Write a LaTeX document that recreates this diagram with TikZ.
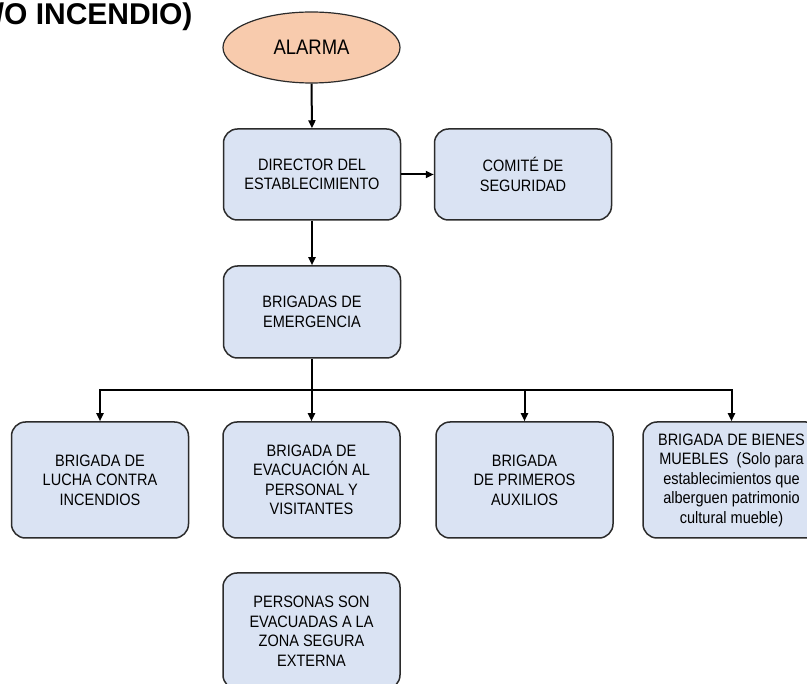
\documentclass[tikz,border=0pt]{standalone}
\usepackage{fontspec}
\setmainfont{Liberation Sans}
\newfontfamily\boxfont[FakeStretch=0.88]{Liberation Sans}
\usetikzlibrary{arrows.meta,positioning,shapes.geometric}
\definecolor{alarmfill}{HTML}{F8CBAD}
\definecolor{boxfill}{HTML}{DAE3F3}
\definecolor{boxline}{HTML}{2B2B2B}
\tikzset{
	block/.style={draw=boxline,line width=1.5pt,fill=boxfill,rounded corners=14pt,minimum width=177pt,align=center,inner sep=2pt,font=\boxfont\fontsize{16.5}{19.5}\selectfont},
	alarm/.style={ellipse,draw=boxline,line width=1.2pt,fill=alarmfill,minimum width=177pt,minimum height=71pt,inner sep=0pt,font=\boxfont\fontsize{21}{24}\selectfont},
	link/.style={line width=2pt,-{Triangle[length=8pt,width=7pt]}}
}

\begin{document}
\begin{tikzpicture}[x=1pt,y=-1pt]
	\useasboundingbox (0,0) rectangle (807,684);

	\node [anchor=base east,font=\bfseries\fontsize{30}{34}\selectfont] (title) at (196,25) {/O INCENDIO)};

	\node [alarm] (alarma) at (311.5,47.5) {ALARMA};
	\node [block,minimum height=91pt] (director) at (312,174.5) {DIRECTOR DEL\\ESTABLECIMIENTO};
	\node [block,minimum height=91pt] (comite) at (523,174.5) {COMIT\'E DE\\SEGURIDAD};
	\node [block,minimum height=92pt] (brigadas) at (312,312) {BRIGADAS DE\\EMERGENCIA};

	\draw [link] (alarma.south) -- (director.north);
	\draw [link] (director.east) -- (comite.west);
	\draw [link] (director.south) -- (brigadas.north);

	% reparto a las brigadas
	\coordinate (bus) at (312,390);
	\draw [line width=2pt] (brigadas.south) -- (bus);
	\foreach \name/\x/\txt in {
		lucha/100/{BRIGADA DE\\LUCHA CONTRA\\INCENDIOS},
		evacuacion/311.5/{BRIGADA DE\\EVACUACI\'ON AL\\PERSONAL Y\\VISITANTES},
		auxilios/524.5/{BRIGADA\\DE PRIMEROS\\AUXILIOS},
		bienes/731.5/{BRIGADA DE BIENES\\MUEBLES\ \ (Solo para\\establecimientos que\\alberguen patrimonio\\cultural mueble)}}{
		\node [block,minimum height=116pt] (\name) at (\x,480) {\txt};
		\draw [link] (bus) -| (\name.north);
	}

	\node [block,minimum height=116pt] (zona) at (311.5,631) {PERSONAS SON\\EVACUADAS A LA\\ZONA SEGURA\\EXTERNA};
\end{tikzpicture}
\end{document}
